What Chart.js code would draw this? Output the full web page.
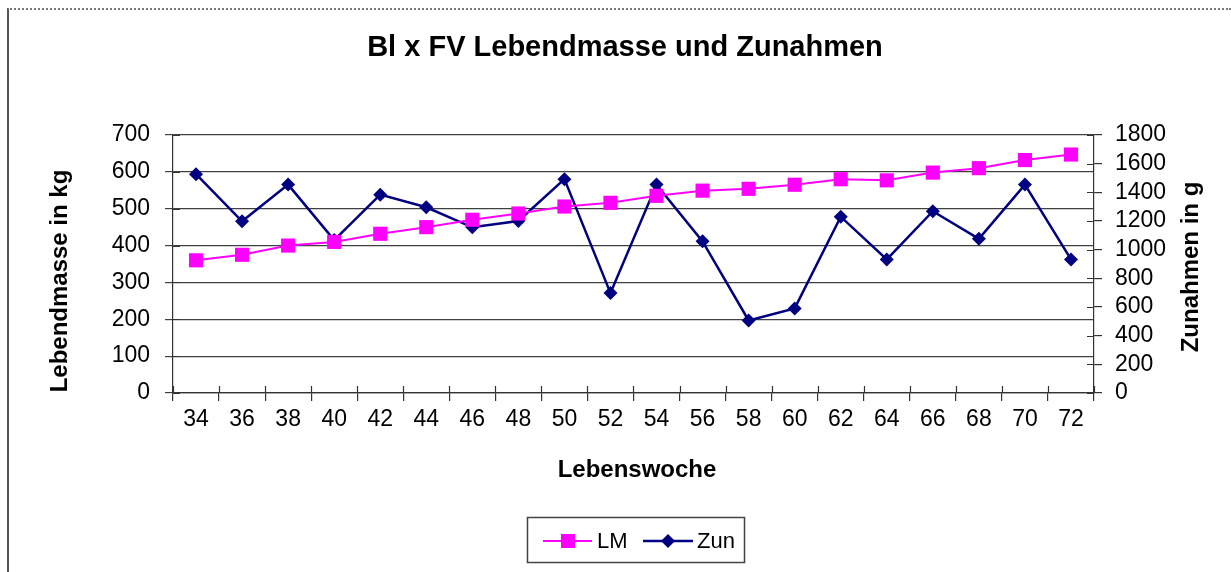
<!DOCTYPE html>
<html>
<head>
<meta charset="utf-8">
<script src="https://cdn.jsdelivr.net/npm/chart.js@4/dist/chart.umd.min.js"></script>
<style>
    html, body { margin: 0; padding: 0; background: #fff; }
    #wrap { position: relative; width: 1231px; height: 572px; }
    #frame {
        position: absolute; left: 7px; top: 8px; right: 0; bottom: 0;
        border-top: 2px dotted #777; border-left: 2px solid #555;
        pointer-events: none;
    }
    canvas { position: absolute; left: 0; top: 0; }
</style>
</head>
<body>
<div id="wrap">
    <canvas id="chart" width="1231" height="572"></canvas>
    <div id="frame"></div>
</div>
<script>
/* ---------- Daten ---------- */
const wochen = ["34", "36", "38", "40", "42", "44", "46", "48", "50", "52",
                "54", "56", "58", "60", "62", "64", "66", "68", "70", "72"];
const lm  = [360, 375, 400, 410, 432, 450, 470, 487, 506, 516,
             535, 549, 554, 565, 580, 577, 598, 610, 632, 647];
const zun = [1527, 1198, 1454, 1067, 1384, 1296, 1156, 1200, 1492, 697,
             1454, 1058, 506, 590, 1230, 932, 1268, 1076, 1454, 932];
const lmTicks  = [0, 100, 200, 300, 400, 500, 600, 700];
const zunTicks = [0, 200, 400, 600, 800, 1000, 1200, 1400, 1600, 1800];

const FONT = "Arial, 'Liberation Sans', sans-serif";
const AXIS = "#333";
const TICKSIZE = 23;

/* ---------- Titel, Achsentitel, Legende, innere Teilstriche ---------- */
const excelDeko = {
    id: "excelDeko",
    afterDraw(chart) {
        const c = chart.ctx;
        const x = chart.scales.x, y = chart.scales.y, y2 = chart.scales.y2;
        const area = chart.chartArea;

        // Teilstriche nach innen (Excel: kreuzend)
        c.save();
        c.strokeStyle = AXIS;
        c.lineWidth = 1.2;
        c.beginPath();
        lmTicks.forEach(v => {
            const py = Math.round(y.getPixelForValue(v)) + 0.5;
            c.moveTo(area.left, py); c.lineTo(area.left + 7, py);
        });
        zunTicks.forEach(v => {
            const py = Math.round(y2.getPixelForValue(v)) + 0.5;
            c.moveTo(area.right - 7, py); c.lineTo(area.right, py);
        });
        const band = x.getPixelForTick(1) - x.getPixelForTick(0);
        for (let i = 0; i <= wochen.length; i++) {
            const px = Math.round(x.getPixelForTick(0) + (i - 0.5) * band) + 0.5;
            c.moveTo(px, area.bottom); c.lineTo(px, area.bottom - 7);
        }
        c.stroke();
        c.restore();

        // Titel
        c.save();
        c.fillStyle = "#000";
        c.textAlign = "center";
        c.textBaseline = "middle";
        c.font = "bold 29px " + FONT;
        c.fillText("Bl x FV Lebendmasse und Zunahmen", 625, 48);

        c.font = "bold 24px " + FONT;
        c.fillText("Lebenswoche", 637, 470);

        c.translate(60, 281);
        c.rotate(-Math.PI / 2);
        c.fillText("Lebendmasse in kg", 0, 0);
        c.restore();

        c.save();
        c.fillStyle = "#000";
        c.textAlign = "center";
        c.textBaseline = "middle";
        c.font = "bold 24px " + FONT;
        c.translate(1191, 267);
        c.rotate(-Math.PI / 2);
        c.fillText("Zunahmen in g", 0, 0);
        c.restore();

        // Legende
        c.save();
        c.strokeStyle = "#444";
        c.lineWidth = 1.5;
        c.strokeRect(527.5, 517.5, 217, 45);
        const ly = 541;
        c.lineWidth = 2;
        c.strokeStyle = "#FF00FF";
        c.beginPath(); c.moveTo(543, ly); c.lineTo(592, ly); c.stroke();
        c.fillStyle = "#FF00FF";
        c.fillRect(561, ly - 7, 14, 14);
        c.strokeStyle = "#000080";
        c.lineWidth = 2.5;
        c.beginPath(); c.moveTo(643, ly); c.lineTo(693, ly); c.stroke();
        c.fillStyle = "#000080";
        c.beginPath();
        c.moveTo(668, ly - 7); c.lineTo(675, ly); c.lineTo(668, ly + 7); c.lineTo(661, ly);
        c.closePath(); c.fill();
        c.fillStyle = "#000";
        c.font = "22px " + FONT;
        c.textAlign = "left";
        c.textBaseline = "middle";
        c.fillText("LM", 597, ly + 1);
        c.fillText("Zun", 697, ly + 1);
        c.restore();
    }
};

/* ---------- Diagramm ---------- */
new Chart(document.getElementById("chart"), {
    type: "line",
    data: {
        labels: wochen,
        datasets: [
            {
                label: "LM",
                data: lm,
                yAxisID: "y",
                borderColor: "#FF00FF",
                backgroundColor: "#FF00FF",
                borderWidth: 2,
                pointStyle: "rect",
                pointRadius: 10,
                pointBorderWidth: 0,
                tension: 0
            },
            {
                label: "Zun",
                data: zun,
                yAxisID: "y2",
                borderColor: "#000080",
                backgroundColor: "#000080",
                borderWidth: 2.5,
                pointStyle: "rectRot",
                pointRadius: 7,
                pointBorderWidth: 0,
                tension: 0
            }
        ]
    },
    options: {
        responsive: false,
        animation: false,
        layout: { padding: { top: 135, left: 0, right: 0, bottom: 0 } },
        plugins: {
            legend: { display: false },
            title: { display: false },
            tooltip: { enabled: false }
        },
        scales: {
            x: {
                type: "category",
                offset: true,
                grid: {
                    offset: true,
                    drawOnChartArea: false,
                    tickLength: 8,
                    color: AXIS,
                    lineWidth: 1.2
                },
                border: { color: AXIS, width: 1.2 },
                ticks: {
                    color: "#000",
                    font: { family: FONT, size: TICKSIZE },
                    padding: 5,
                    maxRotation: 0,
                    autoSkip: false
                },
                afterFit: s => { s.height = 179; }
            },
            y: {
                position: "left",
                min: 0,
                max: 700,
                grid: { color: "#404040", lineWidth: 1.2, tickLength: 8 },
                border: { color: AXIS, width: 1.2 },
                ticks: {
                    stepSize: 100,
                    autoSkip: false,
                    color: "#000",
                    font: { family: FONT, size: TICKSIZE },
                    padding: 15,
                    callback: v => String(v)
                },
                afterFit: s => { s.width = 173; }
            },
            y2: {
                position: "right",
                min: 0,
                max: 1800,
                grid: { drawOnChartArea: false, color: AXIS, lineWidth: 1.2, tickLength: 8 },
                border: { color: AXIS, width: 1.2 },
                ticks: {
                    stepSize: 200,
                    autoSkip: false,
                    color: "#000",
                    font: { family: FONT, size: TICKSIZE },
                    padding: 13,
                    callback: v => String(v)
                },
                afterFit: s => { s.width = 137; }
            }
        }
    },
    plugins: [excelDeko]
});
</script>
</body>
</html>
